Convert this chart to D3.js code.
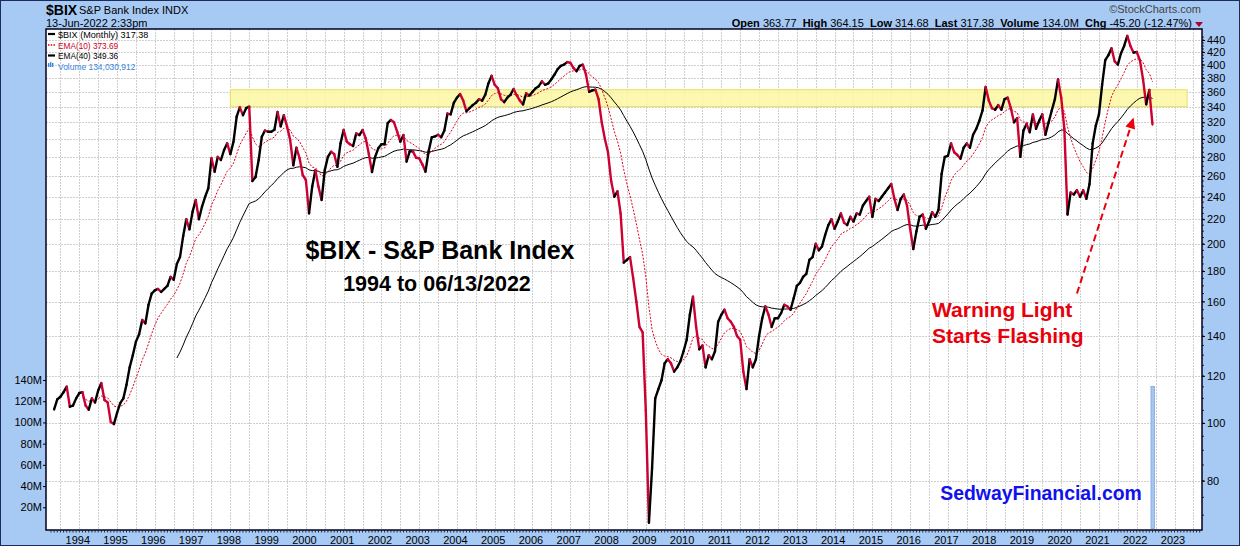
<!DOCTYPE html>
<html><head><meta charset="utf-8">
<script src="https://cdn.jsdelivr.net/npm/d3@7"></script>
<style>
html,body{margin:0;padding:0;background:#a7caf5;}
svg{display:block;}
text{font-family:"Liberation Sans",Arial,sans-serif;}
</style></head><body>
<svg id="c" width="1240" height="546"></svg>
<script>
// ---------------- DATA ----------------
const firstMonth = "1993-05";           // month of first close
const bixClose = [
  105.4,109.6,110.7,112.7,115.1,106.5,107.0,110.0,
  112.3,112.7,107.0,105.3,110.0,108.3,113.4,116.7,109.3,108.3,100.4,99.6,
  104,108,110,116,124,130,137,141,149,147,158,165,
  167,168,166,168,170,176,174,185,190,206,220,211.5,
  226.5,237,220,231,240,248,278.5,264.4,280,276.6,287.5,295,
  283,297,327,339,329,338,340,255,259,276.6,302.7,310,
  308.6,308.6,311,333,315,329,315,299,271,290,278.5,261,
  256,225,249.5,266,249.5,237,266,280,285.6,283,269.5,295,
  310.6,297,294,292,306.6,304.6,310.6,300.8,283,264,280,289.4,
  294,294,319,323,320,308.6,297,304.6,275,286,286,279,
  278.5,272,264.4,286,302,303,305,302,310,331,330,345,
  352,357,348,334,338,342,345,350,348,356,372,383,
  370,365,350,346,352,356,364,355,348,343,358,355,
  360,365,368,375,370,372,378,385,393,398,400,404,
  403,395,390,398,400,385,360,362,363,350,320,300,
  285,255,240,245,225,186,188,190,175,160,145,142,
  105,68,84,110,114,118,126,128,126,122,124,127,
  132,138,152,163,145,133,135,124,130,128,132,148,
  152,155,150,148,145,140,138,122,114,128,124,128,
  140,150,157,152,145,150,150,153,158,157,155,162,
  170,172,176,178,188,190,200,195,198,207,215,220,
  212,218,225,217,215,222,218,225,224,232,236,240,
  222,238,236,240,244,248,252,238,228,238,242,232,
  212,196,210,222,224,212,218,226,222,228,262,280,
  281,295,285,282,278,290,295,290,305,312,322,335,
  367,348,338,336,342,336,350,352,338,320,325,280,
  310,318,308,330,312,322,330,305,320,335,350,378,
  352,312,224,244,242,246,240,246,238,252,295,316,
  330,370,407,415,426,405,400,418,430,447,430,419,
  420,407,378,343,362.58,317.38
];
const volumeMonths = ["2022-06"];
const volumeValues = [134030912];
const yearLabels = ["1994","1995","1996","1997","1998","1999","2000","2001","2002","2003","2004","2005","2006","2007","2008","2009","2010","2011","2012","2013","2014","2015","2016","2017","2018","2019","2020","2021","2022","2023"];
const priceTicks = [80,100,120,140,160,180,200,220,240,260,280,300,320,340,360,380,400,420,440];
const volumeTicks = [20e6,40e6,60e6,80e6,100e6,120e6,140e6];
const bandMonths = ["1998-01","2023-05"];
const bandPrices = [340,363];
const arrowFrom = {month:"2020-06", price:165};
const arrowTo = {month:"2021-12", price:326};
const emaPeriods = [10,40];
const legendTexts = ["$BIX (Monthly) 317.38","EMA(10) 373.69","EMA(40) 349.36","Volume 134,030,912"];
const headerQuote = [["Open"," 363.77  "],["High"," 364.15  "],["Low"," 314.68  "],["Last"," 317.38  "],["Volume"," 134.0M  "],["Chg"," -45.20 (-12.47%)"]];

// ---------------- HELPERS ----------------
const mIdx = s => { const [y,m] = s.split("-").map(Number); return (y-1994)*12 + (m-1); };
const start = mIdx(firstMonth);
const pts = bixClose.map((v,i)=>({m:start+i, v}));
function ema(arr, n){
  const out = new Array(arr.length).fill(null);
  let s = 0; for(let i=0;i<n;i++) s += arr[i];
  let e = s/n; out[n-1] = e; const k = 2/(n+1);
  for(let i=n;i<arr.length;i++){ e = arr[i]*k + e*(1-k); out[i] = e; }
  return out;
}
const ema10 = ema(bixClose, emaPeriods[0]);
const ema40 = ema(bixClose, emaPeriods[1]);

// ---------------- LAYOUT ----------------
const W=1240,H=546;
const P={l:46,r:1202,t:29,b:530};
const x = d3.scaleLinear().domain([0,348]).range([79.3,1174.5]);
const y = d3.scaleLog().domain([80,440]).range([480.7,40]);
const yv = d3.scaleLinear().domain([0,140e6]).range([528.5,380]);

const svg = d3.select("#c");
svg.append("rect").attr("x",0.5).attr("y",0.5).attr("width",W-1).attr("height",H-1)
  .attr("fill","#a7caf5").attr("stroke","#1c2c5c");
svg.append("defs").append("clipPath").attr("id","clip").append("rect")
  .attr("x",P.l).attr("y",P.t).attr("width",P.r-P.l).attr("height",P.b-P.t);
svg.append("rect").attr("x",P.l).attr("y",P.t).attr("width",P.r-P.l).attr("height",P.b-P.t).attr("fill","#fff");

const g = svg.append("g").attr("clip-path","url(#clip)");
// grid
const grid = g.append("g").attr("stroke","#cfcfcf").attr("stroke-width",1).attr("stroke-dasharray","2,1");
priceTicks.forEach(t=>grid.append("line").attr("x1",P.l).attr("x2",P.r).attr("y1",Math.round(y(t))+0.5).attr("y2",Math.round(y(t))+0.5));
for(let m=-6;m<=354;m+=6){ grid.append("line").attr("x1",Math.round(x(m))+0.5).attr("x2",Math.round(x(m))+0.5).attr("y1",P.t).attr("y2",P.b); }

// band
g.append("rect").attr("x",x(mIdx(bandMonths[0]))).attr("width",x(mIdx(bandMonths[1]))-x(mIdx(bandMonths[0])))
  .attr("y",y(bandPrices[1])).attr("height",y(bandPrices[0])-y(bandPrices[1]))
  .attr("fill","#fbf7a2").attr("fill-opacity",0.85).attr("stroke","#e6df66").attr("stroke-width",1);

// volume
g.selectAll(".vol").data(volumeMonths.map((m,i)=>({m:mIdx(m),v:volumeValues[i]}))).join("rect")
  .attr("x",d=>x(d.m)-1.5).attr("width",3.5).attr("y",d=>yv(d.v)).attr("height",d=>yv(0)-yv(d.v))
  .attr("fill","#a9c4ee").attr("stroke","#7ea6e3").attr("stroke-width",0.8);

// EMAs
const lineGen = d3.line().defined(d=>d.v!=null).x(d=>x(d.m)).y(d=>y(d.v));
g.append("path").datum(ema40.map((v,i)=>({m:start+i,v})))
  .attr("d",lineGen).attr("fill","none").attr("stroke","#000").attr("stroke-width",1);
g.append("path").datum(ema10.map((v,i)=>({m:start+i,v})))
  .attr("d",lineGen).attr("fill","none").attr("stroke","#e0001a").attr("stroke-width",1).attr("stroke-dasharray","2,1.5");

// price segments
const segs = d3.pairs(pts);
g.selectAll(".seg").data(segs).join("path")
  .attr("d",d=>lineGen(d)).attr("fill","none")
  .attr("stroke",d=>d[1].v<d[0].v?"#cc0033":"#000")
  .attr("stroke-width",2.4).attr("stroke-linecap","round").attr("stroke-linejoin","round");

// frame
svg.append("rect").attr("x",P.l).attr("y",P.t).attr("width",P.r-P.l).attr("height",P.b-P.t)
  .attr("fill","none").attr("stroke","#000022").attr("stroke-width",1.5);

// right axis
const ra = svg.append("g").attr("transform",`translate(${P.r},0)`)
  .call(d3.axisRight(y).tickValues(priceTicks).tickFormat(d3.format("d")).tickSize(3).tickPadding(2));
ra.select(".domain").remove();
ra.selectAll("text").attr("font-size",11).attr("font-family","Liberation Sans, Arial").attr("fill","#000");
const minorP = d3.range(70,446,5).filter(v=>y(v)>P.t && y(v)<P.b);
svg.append("g").selectAll("line").data(minorP).join("line")
  .attr("x1",P.r).attr("x2",P.r+2).attr("y1",d=>y(d)).attr("y2",d=>y(d)).attr("stroke","#000").attr("stroke-width",0.8);

// left axis
const la = svg.append("g").attr("transform",`translate(${P.l},0)`)
  .call(d3.axisLeft(yv).tickValues(volumeTicks).tickFormat(d=>d/1e6+"M").tickSize(3).tickPadding(1));
la.select(".domain").remove();
la.selectAll("text").attr("font-size",11).attr("font-family","Liberation Sans, Arial").attr("fill","#000");

// bottom axis
const yearIdx = yearLabels.map(s=>mIdx(s+"-01"));
const ba = svg.append("g").attr("transform",`translate(0,${P.b})`)
  .call(d3.axisBottom(x).tickValues(yearIdx).tickFormat((d,i)=>yearLabels[i]).tickSize(0).tickPadding(6));
ba.select(".domain").remove();
ba.selectAll("text").attr("font-size",11).attr("font-family","Liberation Sans, Arial").attr("fill","#000").attr("dx",-2);
svg.append("g").selectAll("line").data(d3.range(-9,357)).join("line")
  .attr("x1",d=>x(d)).attr("x2",d=>x(d)).attr("y1",P.b+0.5).attr("y2",P.b+2.5)
  .attr("stroke","#000").attr("stroke-width",0.8);

// legend
const lg = svg.append("g");
const legY = [34,45,55.5,66];
const legCol = ["#000","#d0001a","#000","#3a86e0"];
lg.append("line").attr("x1",48).attr("x2",55).attr("y1",legY[0]).attr("y2",legY[0]).attr("stroke","#000").attr("stroke-width",2.2);
lg.append("line").attr("x1",48).attr("x2",56).attr("y1",legY[1]).attr("y2",legY[1]).attr("stroke","#d0001a").attr("stroke-width",1.6).attr("stroke-dasharray","1.5,1.2");
lg.append("line").attr("x1",48).attr("x2",55).attr("y1",legY[2]).attr("y2",legY[2]).attr("stroke","#000").attr("stroke-width",2.2);
[0,2,4].forEach(k=>lg.append("rect").attr("x",48+k).attr("y",legY[3]-3+ (k==2?-1:0)).attr("width",1.4).attr("height",k==2?5:4).attr("fill","#3a86e0"));
legendTexts.forEach((t,i)=>{
  lg.append("text").attr("x",58).attr("y",legY[i]+3.5).attr("font-family","DejaVu Sans Mono, monospace")
    .attr("font-size",9.5).attr("fill",legCol[i]).attr("textLength",t.length*4.3).attr("lengthAdjust","spacingAndGlyphs").text(t);
});

// header
svg.append("text").attr("x",46).attr("y",14.5).attr("font-size",14).attr("font-weight","bold").text("$BIX");
svg.append("text").attr("x",79).attr("y",13.5).attr("font-size",11).text("S&P Bank Index  INDX");
svg.append("text").attr("x",46).attr("y",27).attr("font-size",11).text("13-Jun-2022 2:33pm");
svg.append("text").attr("x",1201).attr("y",13).attr("font-size",11).attr("fill","#444").attr("text-anchor","end").text("\u00A9StockCharts.com");
const hq = svg.append("text").attr("x",1192).attr("y",27).attr("font-size",11).attr("text-anchor","end").attr("xml:space","preserve");
headerQuote.forEach(([a,b])=>{ hq.append("tspan").attr("font-weight","bold").text(a); hq.append("tspan").text(b); });
svg.append("path").attr("d","M1195,22 L1203,22 L1199,27 Z").attr("fill","#b0002a");

// titles
svg.append("text").attr("x",440).attr("y",259).attr("text-anchor","middle").attr("font-size",25).attr("font-weight","bold").text("$BIX - S&P Bank Index");
svg.append("text").attr("x",437).attr("y",291).attr("text-anchor","middle").attr("font-size",21.5).attr("font-weight","bold").text("1994 to 06/13/2022");
svg.append("text").attr("x",932).attr("y",317).attr("font-size",21).attr("font-weight","bold").attr("fill","#e8000b").text("Warning Light");
svg.append("text").attr("x",932).attr("y",343).attr("font-size",21).attr("font-weight","bold").attr("fill","#e8000b").text("Starts Flashing");
svg.append("text").attr("x",1041).attr("y",500).attr("text-anchor","middle").attr("font-size",19.4).attr("font-weight","bold").attr("fill","#1111ee").text("SedwayFinancial.com");

// arrow
const ax1 = x(mIdx(arrowFrom.month)), ay1 = y(arrowFrom.price), ax2 = x(mIdx(arrowTo.month)), ay2 = y(arrowTo.price);
const ang = Math.atan2(ay2-ay1, ax2-ax1);
const hl = 11, hw = 5;
const bx = ax2 - hl*Math.cos(ang), by = ay2 - hl*Math.sin(ang);
svg.append("line").attr("x1",ax1).attr("y1",ay1).attr("x2",bx).attr("y2",by)
  .attr("stroke","#e8000b").attr("stroke-width",2).attr("stroke-dasharray","7,4");
svg.append("path").attr("d",`M${ax2},${ay2} L${bx - hw*Math.sin(ang)},${by + hw*Math.cos(ang)} L${bx + hw*Math.sin(ang)},${by - hw*Math.cos(ang)} Z`).attr("fill","#e8000b");
</script>
</body></html>
